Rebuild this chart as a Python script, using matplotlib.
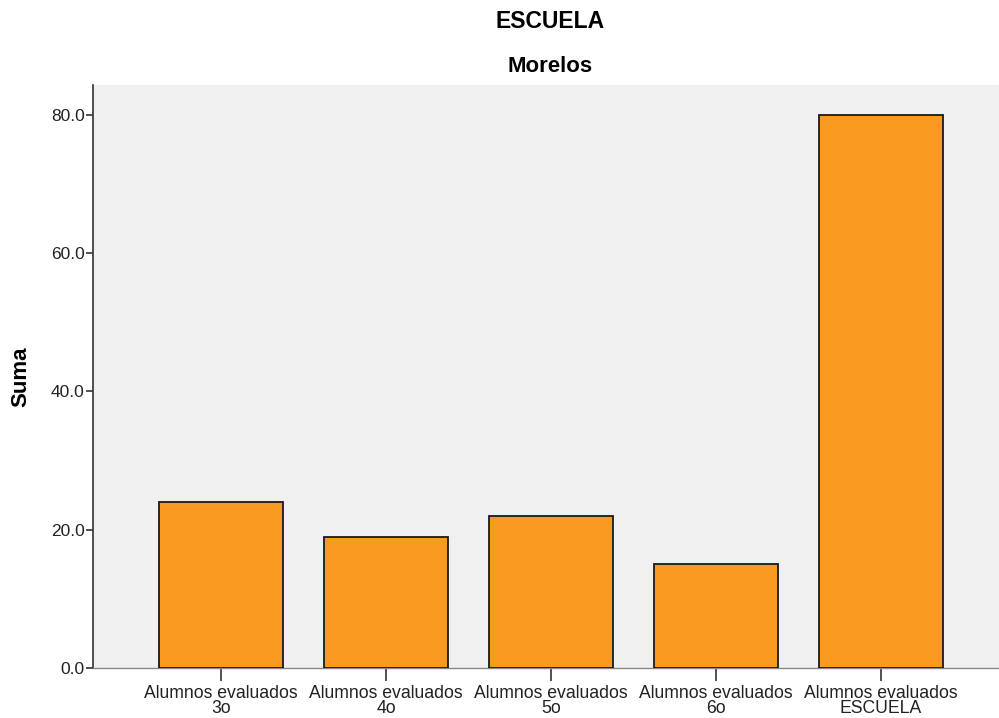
import matplotlib
matplotlib.use("Agg")
import matplotlib.pyplot as plt

plt.rcParams['font.family'] = ['Liberation Sans', 'DejaVu Sans']

categories = ["Alumnos evaluados\n3o", "Alumnos evaluados\n4o", "Alumnos evaluados\n5o",
              "Alumnos evaluados\n6o", "Alumnos evaluados\nESCUELA"]
values = [24, 19, 22, 15, 80]
yticks = [0, 20, 40, 60, 80]

fig = plt.figure(figsize=(9.99, 7.18), dpi=100)
# plot area: x 93..999, y 85..668 (pixels)
ax = fig.add_axes([93 / 999, 1 - 668 / 718, (999 - 93) / 999, (668 - 85) / 718])
ax.set_facecolor('#f0f0f0')

x = range(len(categories))
ax.bar(x, values, width=0.752, color='#f89a1f', edgecolor='#1a1a1a', linewidth=1.3, zorder=3)

ax.set_xlim(-0.776, 4.715)
ax.set_ylim(0, 84.3)
ax.set_yticks(yticks)
ax.set_yticklabels([f"{v:.1f}" for v in yticks], fontsize=12.5, color='#222222')
ax.set_xticks(list(x))
ax.set_xticklabels(categories, fontsize=12.7, color='#222222', linespacing=0.88)

for s in ['top', 'right']:
    ax.spines[s].set_visible(False)
ax.spines['left'].set_color('#333333')
ax.spines['left'].set_linewidth(1.2)
ax.spines['bottom'].set_color('#888888')
ax.spines['bottom'].set_linewidth(1.0)
ax.tick_params(axis='y', length=5, width=1.2, color='#333333', pad=1)
ax.tick_params(axis='x', length=9, width=1.2, color='#333333', pad=3)

ax.set_ylabel("Suma", fontsize=16, fontweight='bold')
ax.yaxis.set_label_coords(-0.068, 0.5)

fig.text(550 / 999, 1 - 21 / 718, "ESCUELA", ha='center', va='center', fontsize=16.5, fontweight='bold')
fig.text(550 / 999, 1 - 67 / 718, "Morelos", ha='center', va='center', fontsize=16, fontweight='bold')

fig.savefig("out.png", dpi=100)
